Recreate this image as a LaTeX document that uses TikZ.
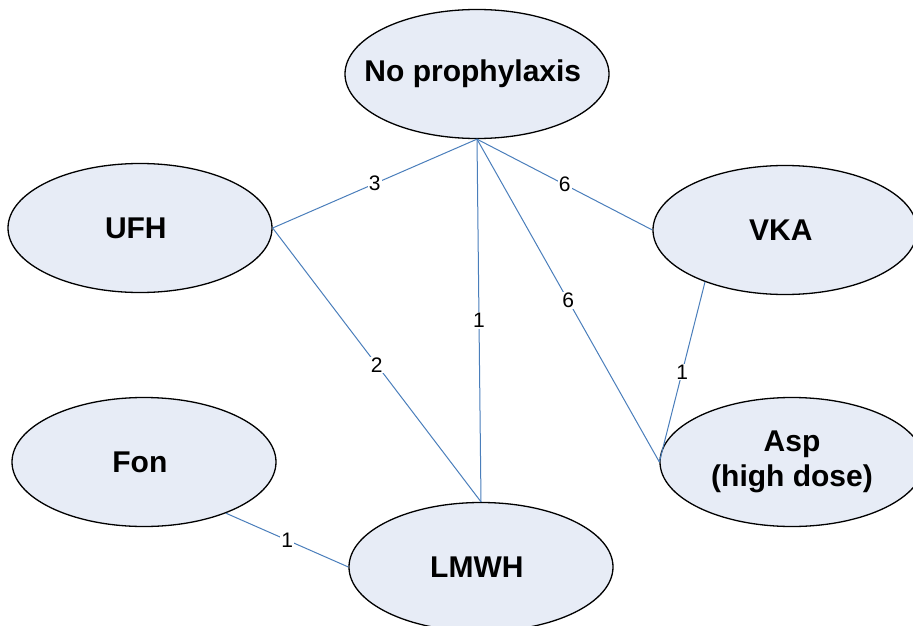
\documentclass[tikz,border=0pt]{standalone}
\usepackage{fontspec}
\setmainfont{Liberation Sans}
\usetikzlibrary{shapes.geometric}
\definecolor{linkblue}{HTML}{4A7EBB}
\definecolor{nodefill}{HTML}{E7ECF6}
\begin{document}
\begin{tikzpicture}[
		x = 1pt, y = -1pt,
		treatment/.style = { draw, ellipse, fill = nodefill, line width = 1.3pt,
			minimum width = 264pt, minimum height = 129pt,
			inner xsep = -50pt, inner ysep = -20pt,
			align = center, font = \fontsize{30}{35}\selectfont\bfseries },
		link/.style = { draw = linkblue, line width = 1pt },
		count/.style = { fill = white, inner sep = 1pt, font = \fontsize{21}{23}\selectfont }
	]
	\useasboundingbox (0,0) rectangle (913,626);
	\node [treatment] (none) at (477,74) { No prophylaxis };
	\node [treatment] (ufh) at (140,228) { UFH };
	\node [treatment] (vka) at (785,230) { VKA };
	\node [treatment] (fon) at (144,462) { Fon };
	\node [treatment] (asp) at (792,462) { Asp\\(high dose) };
	\node [treatment] (lmwh) at (481,567) { LMWH };

	\draw [link] (ufh.east) -- node [count] { 3 } (none.south);
	\draw [link] (none.south) -- node [count] { 6 } (vka.west);
	\draw [link] (none.south) -- node [count] { 1 } (lmwh.north);
	\draw [link] (none.south) -- node [count] { 6 } (asp.west);
	\draw [link] (ufh.east) -- node [count] { 2 } (lmwh.north);
	\draw [link] (vka.213) -- node [count] { 1 } (asp.west);
	\draw [link] (fon.-32) -- node [count] { 1 } (lmwh.west);
\end{tikzpicture}
\end{document}
